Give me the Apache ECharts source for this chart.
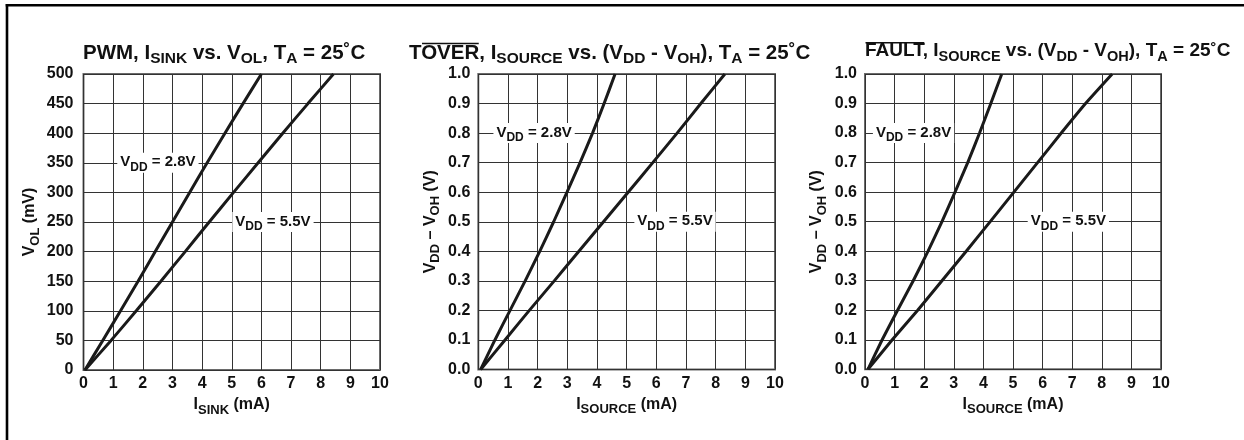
<!DOCTYPE html>
<html><head><meta charset="utf-8">
<script src="https://cdn.jsdelivr.net/npm/echarts@6/dist/echarts.min.js"></script>
<style>html,body{margin:0;padding:0;background:#fff}#c{width:1244px;height:440px}</style>
</head><body><div id="c"></div>
<script>
// ---------- data ----------
const xTicks = [0, 1, 2, 3, 4, 5, 6, 7, 8, 9, 10];
const pwmVol = [0, 50, 100, 150, 200, 250, 300, 350, 400, 450, 500];            // mV
const pwmIsink28 = [0.05, 0.65, 1.25, 1.84, 2.42, 3.0, 3.58, 4.17, 4.77, 5.38, 6.0];   // mA
const pwmIsink55 = [0.05, 0.93, 1.78, 2.61, 3.43, 4.24, 5.06, 5.89, 6.72, 7.57, 8.43];
const vDiff = [0, 0.1, 0.2, 0.3, 0.4, 0.5, 0.6, 0.7, 0.8, 0.9, 1.0];            // V
const overIsrc28 = [0.08, 0.56, 1.07, 1.58, 2.07, 2.54, 2.99, 3.43, 3.85, 4.24, 4.61];
const overIsrc55 = [0.08, 0.9, 1.72, 2.56, 3.39, 4.22, 5.05, 5.88, 6.7, 7.5, 8.31];
const faultIsrc28 = [0.1, 0.58, 1.1, 1.63, 2.13, 2.6, 3.04, 3.47, 3.87, 4.25, 4.62];
const faultIsrc55 = [0.1, 0.92, 1.78, 2.6, 3.42, 4.23, 5.03, 5.83, 6.63, 7.45, 8.35];
const vddLabels = ['2.8V', '5.5V'];
const pwmLabelAt = [[2.51, 350], [6.39, 250]];
const overLabelAt = [[1.88, 0.8], [6.63, 0.5]];
const faultLabelAt = [[1.64, 0.8], [6.87, 0.5]];

// ---------- style ----------
const FF = '"Liberation Sans", Arial, Helvetica, sans-serif';
const INK = '#111';
function richSet(mSize, sSize, mLH, sPad) {
  return {
    m: { fontSize: mSize, fontWeight: 'bold', fontFamily: FF, color: INK, fill: INK, lineHeight: mLH, verticalAlign: 'top',
         textBorderWidth: 0, textBorderColor: 'transparent' },
    s: { fontSize: sSize, fontWeight: 'bold', fontFamily: FF, color: INK, fill: INK, lineHeight: sSize + 1, padding: [sPad, 0, 0, 0], verticalAlign: 'top',
         textBorderWidth: 0, textBorderColor: 'transparent' }
  };
}
const labelRich = richSet(15, 12, 17, 7);
const nameRich = richSet(16, 13, 18, 7);

const grids = [
  { left: 83.5, width: 296.5, top: 74, height: 296 },
  { left: 478.3, width: 296.7, top: 74, height: 295.5 },
  { left: 865, width: 296, top: 74, height: 295.3 }
];

const xAxes = grids.map((g, i) => ({
  type: 'value', gridIndex: i, min: 0, max: 10, interval: 1,
  axisLine: { show: false }, axisTick: { show: false },
  splitLine: { show: true, lineStyle: { color: '#333', width: 1 } },
  axisLabel: { margin: 6, fontSize: 16, fontWeight: 'bold', fontFamily: FF, color: INK },
  name: i === 0 ? '{m|I}{s|SINK}{m| (mA)}' : '{m|I}{s|SOURCE}{m| (mA)}',
  nameLocation: 'middle', nameGap: 26,
  nameTextStyle: { rich: nameRich }
}));
const yAxes = grids.map((g, i) => ({
  type: 'value', gridIndex: i,
  min: 0, max: i === 0 ? 500 : 1, interval: i === 0 ? 50 : 0.1,
  axisLine: { show: false }, axisTick: { show: false },
  splitLine: { show: true, lineStyle: { color: '#333', width: 1 } },
  axisLabel: { margin: i === 0 ? 10 : 8, fontSize: 16, fontWeight: 'bold', fontFamily: FF, color: INK,
    formatter: i === 0 ? (v => String(v)) : (v => v.toFixed(1)) },
  name: i === 0 ? '{m|V}{s|OL}{m| (mV)}' : '{m|V}{s|DD}{m| \u2013 V}{s|OH}{m| (V)}',
  nameLocation: 'middle', nameGap: i === 0 ? 44 : 38,
  nameTextStyle: { rich: nameRich }
}));

function curve(xs, ys, gi) {
  return {
    type: 'line', xAxisIndex: gi, yAxisIndex: gi,
    data: xs.map((x, k) => [x, ys[k]]),
    symbol: 'none', showSymbol: false, smooth: 0.15, silent: true,
    lineStyle: { color: '#1a1a1a', width: 3 }, z: 5
  };
}
function note(pos, txt, gi) {
  return {
    type: 'scatter', xAxisIndex: gi, yAxisIndex: gi, symbolSize: 0, silent: true, z: 10,
    itemStyle: { color: INK, opacity: 1 },
    data: [pos],
    label: {
      show: true, position: 'inside', color: INK, opacity: 1, textBorderWidth: 0, textBorderColor: 'transparent',
      formatter: '{m|V}{s|DD}{m| = ' + txt + '}',
      rich: labelRich, backgroundColor: '#fff', padding: [2, 3, 1, 3]
    }
  };
}

const series = [
  curve(pwmIsink28, pwmVol, 0), curve(pwmIsink55, pwmVol, 0),
  curve(overIsrc28, vDiff, 1), curve(overIsrc55, vDiff, 1),
  curve(faultIsrc28, vDiff, 2), curve(faultIsrc55, vDiff, 2),
  note(pwmLabelAt[0], vddLabels[0], 0), note(pwmLabelAt[1], vddLabels[1], 0),
  note(overLabelAt[0], vddLabels[0], 1), note(overLabelAt[1], vddLabels[1], 1),
  note(faultLabelAt[0], vddLabels[0], 2), note(faultLabelAt[1], vddLabels[1], 2)
];

// ---------- titles ----------
const mctx = document.createElement('canvas').getContext('2d');
function tw(txt, size) { mctx.font = 'bold ' + size + 'px ' + FF; return mctx.measureText(txt).width; }
function titleRich(mSize, sSize) { return richSet(mSize, sSize, 24, 8); }
const titles = [
  { x: 83, y: 42.5, m: 20.5, s: 15.5, text: '{m|PWM, I}{s|SINK}{m| vs. V}{s|OL}{m|, T}{s|A}{m| = 25\u02DAC}' },
  { x: 409, y: 42.5, m: 20.5, s: 15.5, text: '{m|TOVER, I}{s|SOURCE}{m| vs. (V}{s|DD}{m| - V}{s|OH}{m|), T}{s|A}{m| = 25\u02DAC}',
    ov: ['T', 'TOVER'], ovY: 43.5 },
  { x: 865, y: 41.3, m: 19, s: 14.5, text: '{m|FAULT, I}{s|SOURCE}{m| vs. (V}{s|DD}{m| - V}{s|OH}{m|), T}{s|A}{m| = 25\u02DAC}',
    ov: ['', 'FAULT'], ovY: 42.8 }
];
const graphic = [
  { type: 'line', shape: { x1: 7, y1: 4, x2: 7, y2: 440 }, style: { stroke: '#000', lineWidth: 2.6 }, silent: true },
  { type: 'line', shape: { x1: 5.7, y1: 5.3, x2: 1244, y2: 5.3 }, style: { stroke: '#000', lineWidth: 2.6 }, silent: true }
];
titles.forEach(t => {
  graphic.push({ type: 'text', x: t.x, y: t.y, silent: true,
    style: { text: t.text, rich: titleRich(t.m, t.s), fill: INK, align: 'left', verticalAlign: 'top' } });
  if (t.ov) {
    const a = t.x + (t.ov[0] ? tw(t.ov[0], t.m) : 0) + 0.5;
    const b = t.x + tw(t.ov[1], t.m) - 0.5;
    graphic.push({ type: 'line', silent: true, shape: { x1: a, y1: t.ovY, x2: b, y2: t.ovY }, style: { stroke: INK, lineWidth: 1.5 } });
  }
});

const chart = echarts.init(document.getElementById('c'), null, { renderer: 'canvas' });
chart.setOption({
  animation: false,
  backgroundColor: '#fff',
  grid: grids.map(g => Object.assign({ show: true, borderColor: '#6a6a6a', borderWidth: 2, backgroundColor: 'transparent' }, g)),
  xAxis: xAxes, yAxis: yAxes, series: series, graphic: graphic
});
</script></body></html>
